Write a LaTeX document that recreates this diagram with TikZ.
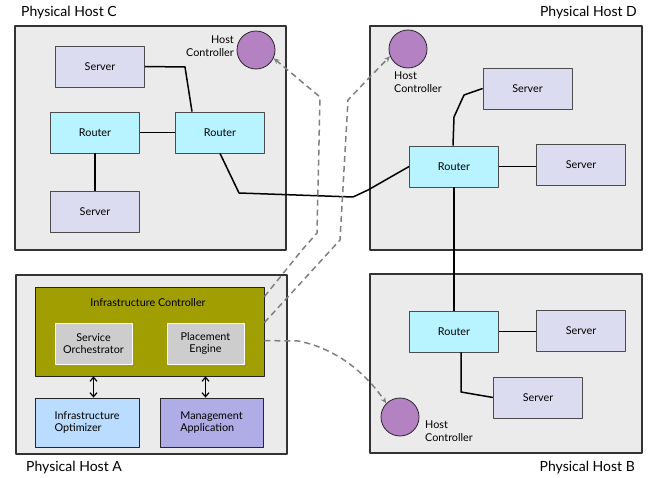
\documentclass[tikz,border=0pt]{standalone}
\usepackage{fontspec}
\setmainfont{Lato}
\usepackage{tikz}
\usetikzlibrary{arrows.meta,calc,positioning}
\definecolor{hostgray}{HTML}{EBEBEB}
\definecolor{srvfill}{HTML}{DCDCF0}
\definecolor{rtrfill}{HTML}{B8F4FF}
\definecolor{hcfill}{HTML}{B482C3}
\definecolor{olive}{HTML}{A09E00}
\definecolor{boxgray}{HTML}{CDCDCD}
\definecolor{optfill}{HTML}{B9DCFF}
\definecolor{mgmtfill}{HTML}{B0ACE6}
\definecolor{dashgray}{HTML}{808080}

\begin{document}
\begin{tikzpicture}[x=1bp,y=-1bp,line join=round,font=\fontsize{10.8bp}{12.5bp}\selectfont,
  hostbox/.style={draw=black!80,line width=1.1bp,fill=hostgray},
  hostlabel/.style={font=\fontsize{14bp}{16bp}\selectfont,inner sep=0pt},
  server/.style={draw=black!70,line width=0.8bp,fill=srvfill,minimum width=89bp,minimum height=41bp,inner sep=0pt},
  router/.style={server,fill=rtrfill},
  hostctl/.style={circle,draw=black!85,line width=0.8bp,fill=hcfill,minimum size=38bp,inner sep=0pt},
  hclabel/.style={inner sep=0pt,font=\fontsize{10.8bp}{13bp}\selectfont},
  link/.style={line width=1.5bp},
  ctlarrow/.style={dashgray,line width=1.5bp,dash pattern=on 6bp off 4bp,-{Stealth[length=6bp,width=5bp]}},
  inner/.style={draw=white,line width=0.8bp,fill=boxgray,minimum width=77bp,minimum height=41bp,inner sep=0pt,align=center},
  appbox/.style={draw=black!85,line width=0.8bp,minimum width=104bp,minimum height=49bp,inner sep=0pt,align=left}]
\useasboundingbox (0,0) rectangle (659,478);
% physical hosts
\draw[hostbox] (15,26) rectangle (286,250);
\draw[hostbox] (370,26) rectangle (642,250);
\draw[hostbox] (16,275) rectangle (287,454);
\draw[hostbox] (370,274) rectangle (642,453);
\node[hostlabel,anchor=west] (labC) at (21,13) {Physical Host C};
\node[hostlabel,anchor=east] (labD) at (637,13) {Physical Host D};
\node[hostlabel,anchor=west] (labA) at (26,468) {Physical Host A};
\node[hostlabel,anchor=east] (labB) at (635,468) {Physical Host B};
% host C
\node[server] (srvC1) at (100,66.5) {Server};
\node[router] (rtrC1) at (95,132.5) {Router};
\node[router] (rtrC2) at (220,132.5) {Router};
\node[server] (srvC2) at (95,211.5) {Server};
\node[hostctl] (hcC) at (256,50) {};
\node[hclabel,align=right,anchor=east] (hclC) at (234,46.5) {Host\\Controller};
\draw[link] (srvC1.east) -- (185,67) -- ([xshift=-28bp]rtrC2.north);
\draw[link] (rtrC1) -- (rtrC2);
\draw[link] (rtrC1) -- (srvC2);
% host D
\node[router] (rtrD) at (454,166.5) {Router};
\node[server] (srvD1) at (527.5,88.5) {Server};
\node[server] (srvD2) at (581,165) {Server};
\node[hostctl] (hcD) at (408,49) {};
\node[hclabel,align=left,anchor=north west] (hclD) at (394,72) {Host\\Controller};
\draw[link] ([xshift=-1bp]rtrD.north) -- (454,117) -- (464,95) -- (srvD1.west);
\draw[link] (rtrD.east) -- (srvD2.west |- rtrD.east);
\draw[link] (rtrC2.south) -- (239,193) -- (353,197) -- (368,190) -- (rtrD.west);
% host B
\node[router] (rtrB) at (454,331.5) {Router};
\node[server] (srvB1) at (581,330.5) {Server};
\node[server] (srvB2) at (538,397.5) {Server};
\node[hostctl] (hcB) at (400,417) {};
\node[hclabel,align=left,anchor=west] (hclB) at (425,431) {Host\\Controller};
\draw[link] (rtrD.south) -- (rtrB.north);
\draw[link] (rtrB.east) -- (srvB1.west |- rtrB.east);
\draw[link] ([xshift=7bp]rtrB.south) -- (461,392) -- (srvB2.west);
% host A
\node[draw=black!85,line width=0.8bp,fill=olive,minimum width=229bp,minimum height=89bp] (ic) at (149.5,331.5) {};
\node[inner sep=0pt] (icl) at (148,303) {Infrastructure Controller};
\node[inner] (so) at (93.5,343.5) {Service\\Orchestrator};
\node[inner] (pe) at (205.5,343.5) {Placement\\Engine};
\node[appbox,fill=optfill] (io) at (87,422.5) {Infrastructure\\Optimizer};
\node[appbox,fill=mgmtfill,minimum width=103bp] (ma) at (211.5,422.5) {Management\\Application};
\draw[{Straight Barb[length=4bp,width=7bp]}-{Straight Barb[length=4bp,width=7bp]},line width=1.2bp] (io.north -| so.south) -- (so.south |- ic.south);
\draw[{Straight Barb[length=4bp,width=7bp]}-{Straight Barb[length=4bp,width=7bp]},line width=1.2bp] (ma.north -| pe.south) -- (pe.south |- ic.south);
% controller paths
\draw[ctlarrow] ($(ic.north east)+(0,10)$) -- (302,250) -- (317,233) -- (320,97) -- (hcC.-25);
\draw[ctlarrow] ($(ic.north east)+(0,36)$) -- (340,240) -- (348,100) -- (367,80) -- (hcD.202);
\draw[ctlarrow] ($(ic.north east)+(0,54)$) -- (298,341) .. controls (335,348) and (365,372) .. (hcB.135);
\end{tikzpicture}
\end{document}
